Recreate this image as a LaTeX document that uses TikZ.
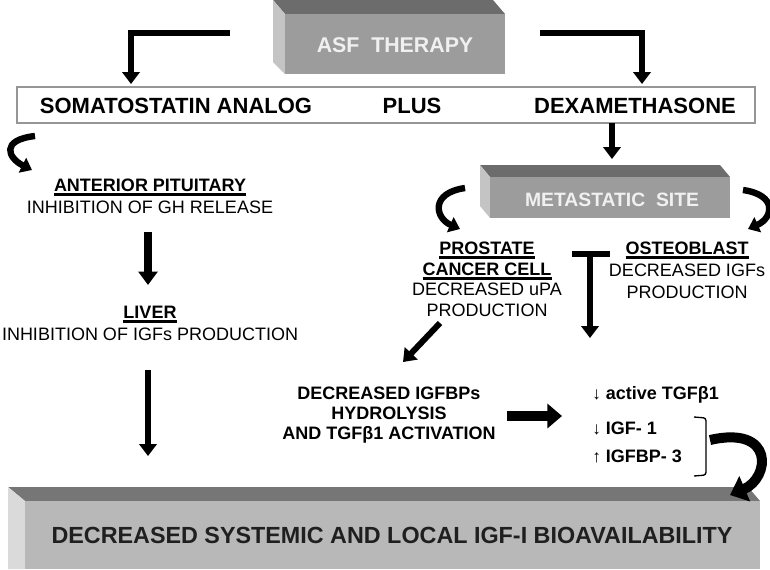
\documentclass[tikz,border=0pt]{standalone}
\usepackage{fontspec}
\setmainfont{Liberation Sans}
\usetikzlibrary{arrows.meta}
\definecolor{box_front}{RGB}{156,156,156}
\definecolor{box_top}{RGB}{108,108,108}
\definecolor{box_side}{RGB}{196,196,196}
\definecolor{slab_front}{RGB}{184,184,184}
\definecolor{slab_top}{RGB}{118,118,118}
\definecolor{slab_side}{RGB}{218,218,218}
\definecolor{frame_gray}{RGB}{150,150,150}
\newcommand{\ubar}[1]{\leavevmode\vtop{\hbox{#1}\kern1.3pt\hrule height 2.2pt}}
\newcommand{\tick}[1]{{\mdseries\fontsize{13}{16}\selectfont#1}}

\begin{document}
\begin{tikzpicture}[x=0.75pt,y=-0.75pt]
    \tikzstyle{big}=[inner sep=0pt, font=\fontsize{16.5}{19}\selectfont\bfseries]
    \tikzstyle{organ}=[align=center, anchor=north, inner sep=0pt, font=\fontsize{13.5}{16.5}\selectfont]
    \tikzstyle{boxtext}=[inner sep=0pt, text=white!94!black, font=\bfseries]
    \tikzstyle{level}=[inner sep=0pt, anchor=west, font=\fontsize{13.5}{16}\selectfont\bfseries]
    \tikzstyle{fat}=[-{Triangle[length=9pt,width=13pt]}, line width=5.2pt]
    \tikzstyle{curl}=[-{Triangle[length=8pt,width=12pt]}, line width=4.8pt]
    \useasboundingbox (0,0) rectangle (770,569);

    % therapy block
    \fill[box_top]   (273,0) -- (493,0) -- (505,14) -- (285,14) -- cycle;
    \fill[box_side]  (273,0) -- (285,14) -- (285,74) -- (273,62) -- cycle;
    \fill[box_front] (285,14) rectangle (505,74);
    \node[boxtext, font=\fontsize{16}{19}\selectfont\bfseries] (asf) at (395,45) {ASF\ \ THERAPY};

    % drugs
    \draw[frame_gray, line width=1.2pt] (17,87) rectangle (755,123);
    \node[big] (soma) at (176,106) {SOMATOSTATIN ANALOG};
    \node[big] (plus) at (412,106) {PLUS};
    \node[big] (dexa) at (635,106) {DEXAMETHASONE};

    \coordinate (asf_l) at (230,33);
    \coordinate (asf_r) at (540,33);
    \coordinate (soma_in) at (131,84);
    \coordinate (dexa_in) at (642,84);
    \draw[fat] (asf_l) -| (soma_in);
    \draw[fat] (asf_r) -| (dexa_in);

    % left branch
    \coordinate (c1a) at (35,136);
    \coordinate (c1b) at (32,170);
    \draw[curl] (c1a) .. controls (0,140) and (8,158) .. (c1b);
    \node[organ] (pit) at (150,178.5) {\bfseries\ubar{ANTERIOR PITUITARY}\\INHIBITION OF GH RELEASE};
    \node[organ] (liv) at (150,305.5) {\bfseries\ubar{LIVER}\\INHIBITION OF IGFs PRODUCTION};
    \coordinate (pit_out) at (148,232);
    \coordinate (liv_in) at (148,285);
    \coordinate (liv_out) at (148,370);
    \coordinate (slab_in) at (148,456);

    % metastatic site
    \coordinate (dexa_out) at (612,123);
    \coordinate (met_in) at (612,159);
    \fill[box_top]   (480,165) -- (720,165) -- (730,177) -- (490,177) -- cycle;
    \fill[box_side]  (480,165) -- (490,177) -- (490,218) -- (480,206) -- cycle;
    \fill[box_front] (490,177) rectangle (730,218);
    \node[boxtext, font=\fontsize{14.5}{16}\selectfont\bfseries] (met) at (612,200) {METASTATIC\ \ SITE};

    \coordinate (c2a) at (465,188);
    \coordinate (c2b) at (460,229);
    \coordinate (c3a) at (743,190);
    \coordinate (c3b) at (748,229);
    \draw[curl] (c2a) .. controls (430,193) and (435,218) .. (c2b);
    \draw[curl] (c3a) .. controls (778,195) and (773,218) .. (c3b);

    \node[organ, font=\fontsize{13.5}{15.5}\selectfont] (pca) at (487,241.5) {\bfseries\ubar{PROSTATE}\\\bfseries\ubar{CANCER CELL}\\DECREASED uPA\\PRODUCTION};
    \node[organ] (ost) at (687,241.5) {\bfseries\ubar{OSTEOBLAST}\\DECREASED IGFs\\PRODUCTION};

    % block on osteoblast
    \coordinate (bar_l) at (572,254);
    \coordinate (bar_r) at (610,254);
    \coordinate (bar_m) at (590,254);
    \coordinate (bar_end) at (590,338);
    \draw[line width=5.2pt] (bar_l) -- (bar_r);

    \coordinate (pca_out) at (440,323);
    \coordinate (hyd_in) at (403,362);

    \node[organ, font=\fontsize{13.5}{15}\selectfont\bfseries] (hyd) at (389,386.5) {DECREASED IGFBPs\\HYDROLYSIS\\AND TGFβ1 ACTIVATION};
    \coordinate (hyd_out) at (507,416);
    \coordinate (lst_in) at (562,416);

    \node[level] (tgf) at (592,395) {\tick{↓} active TGFβ1};
    \node[level] (igf) at (592,428) {\tick{↓} IGF- 1};
    \node[level] (bp3) at (592,456) {\tick{↑} IGFBP- 3};
    \draw[line width=1pt, rounded corners=2pt] (694,417) -- (706,418) -- (706,475) -- (694,476);
    \coordinate (c4a) at (710,440);
    \coordinate (c4b) at (730,495);

    % outcome slab
    \fill[slab_top]   (8,487) -- (748,487) -- (760,501) -- (25,501) -- cycle;
    \fill[slab_side]  (8,487) -- (25,501) -- (25,569) -- (8,569) -- cycle;
    \fill[slab_front] (25,501) rectangle (760,569);
    \node[inner sep=0pt, text=black!88, font=\fontsize{17.5}{20}\selectfont\bfseries] (igf1) at (392,535) {DECREASED\ SYSTEMIC\ AND\ LOCAL\ IGF-I\ BIOAVAILABILITY};

    \draw[-{Triangle[length=12pt,width=20pt]}, line width=7.5pt] (c4a) .. controls (775,425) and (770,478) .. (c4b);
    \path
     (pit_out) edge[-{Triangle[length=10pt,width=14pt]}, line width=6pt] (liv_in)
     (liv_out) edge[fat, line width=4.5pt] (slab_in)
     (dexa_out) edge[fat, line width=4pt] (met_in)
     (bar_m) edge[fat] (bar_end)
     (pca_out) edge[fat, line width=4.5pt] (hyd_in)
     (hyd_out) edge[-{Triangle[length=11pt,width=18pt]}, line width=8pt] (lst_in)
     ;
\end{tikzpicture}
\end{document}
